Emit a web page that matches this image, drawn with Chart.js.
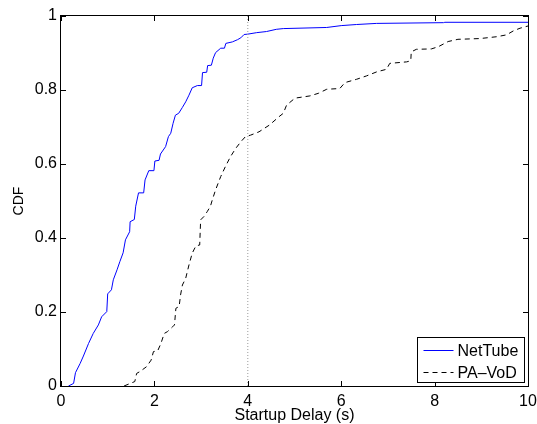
<!DOCTYPE html>
<html lang="en">
<head>
    <meta charset="UTF-8">
    <title>Startup Delay CDF</title>
    <style>
        body { margin: 0; background: #fff; }
        canvas { display: block; }
    </style>
</head>
<body>
    <canvas id="cdfChart" width="537" height="424"></canvas>
    <script src="https://cdn.jsdelivr.net/npm/chart.js@4.4.0/dist/chart.umd.min.js"></script>
    <script>
        // values
        var netTubeDelay = [0.16, 0.27, 0.31, 0.41, 0.48, 0.59, 0.69, 0.80, 0.87, 0.98, 1.00, 1.08, 1.12, 1.20, 1.26, 1.33, 1.38, 1.47, 1.48, 1.57, 1.60, 1.66, 1.77, 1.80, 1.88, 1.99, 2.01, 2.10, 2.13, 2.24, 2.30, 2.35, 2.40, 2.45, 2.52, 2.60, 2.67, 2.74, 2.81, 2.92, 3.01, 3.03, 3.12, 3.14, 3.22, 3.26, 3.31, 3.42, 3.50, 3.53, 3.67, 3.78, 3.85, 3.92, 4.00, 4.19, 4.40, 4.61, 4.76, 5.69, 6.00, 6.33, 6.76, 8.19, 8.22, 10];
        var netTubeCdf = [0, 0.007, 0.036, 0.061, 0.081, 0.115, 0.142, 0.165, 0.187, 0.201, 0.249, 0.26, 0.287, 0.314, 0.336, 0.36, 0.395, 0.417, 0.444, 0.45, 0.486, 0.522, 0.522, 0.557, 0.582, 0.582, 0.608, 0.61, 0.627, 0.647, 0.674, 0.683, 0.71, 0.732, 0.737, 0.753, 0.768, 0.786, 0.806, 0.812, 0.812, 0.847, 0.848, 0.866, 0.867, 0.886, 0.901, 0.913, 0.913, 0.926, 0.93, 0.936, 0.941, 0.95, 0.951, 0.955, 0.958, 0.964, 0.966, 0.969, 0.974, 0.977, 0.980, 0.982, 0.983, 0.983];

        var paVodDelay = [1.35, 1.58, 1.62, 1.69, 1.83, 1.93, 1.98, 2.07, 2.14, 2.21, 2.28, 2.39, 2.43, 2.46, 2.53, 2.56, 2.60, 2.67, 2.74, 2.81, 2.89, 2.97, 2.99, 3.06, 3.13, 3.20, 3.24, 3.31, 3.42, 3.52, 3.63, 3.74, 3.85, 3.95, 4.06, 4.24, 4.46, 4.67, 4.76, 4.83, 5.01, 5.33, 5.51, 5.69, 5.97, 6.08, 6.33, 6.54, 6.76, 6.97, 7.04, 7.40, 7.49, 7.50, 7.61, 7.93, 8.08, 8.29, 8.50, 8.97, 9.33, 9.54, 9.69, 9.83, 10];
        var paVodCdf = [0, 0.012, 0.034, 0.039, 0.052, 0.07, 0.093, 0.095, 0.115, 0.142, 0.147, 0.16, 0.165, 0.21, 0.215, 0.246, 0.273, 0.291, 0.327, 0.359, 0.379, 0.381, 0.449, 0.458, 0.471, 0.486, 0.503, 0.53, 0.566, 0.593, 0.62, 0.642, 0.66, 0.674, 0.678, 0.687, 0.705, 0.728, 0.737, 0.759, 0.778, 0.784, 0.791, 0.802, 0.804, 0.82, 0.829, 0.838, 0.849, 0.856, 0.872, 0.876, 0.879, 0.903, 0.91, 0.911, 0.917, 0.931, 0.937, 0.939, 0.944, 0.949, 0.96, 0.967, 0.973];

        var markerDelay = [4, 4];
        var markerCdf = [0, 1];

        var xTicks = [0, 2, 4, 6, 8, 10];
        var yTicks = [0, 0.2, 0.4, 0.6, 0.8, 1];

        var FONT = "'Liberation Sans', Arial, Helvetica, sans-serif";

        function toPoints(xs, ys) {
            return xs.map(function(x, i) { return { x: x, y: ys[i] }; });
        }

        // box, inward ticks and the legend, matlab style
        var matlabFrame = {
            id: 'matlabFrame',
            afterDatasetsDraw: function(chart) {
                var ctx = chart.ctx;
                var a = chart.chartArea;
                var xs = chart.scales.x;
                var ys = chart.scales.y;
                var tl = 5;

                ctx.save();
                ctx.strokeStyle = '#000';
                ctx.lineWidth = 1;
                ctx.beginPath();
                xTicks.forEach(function(v) {
                    var px = Math.round(xs.getPixelForValue(v)) + 0.5;
                    ctx.moveTo(px, a.bottom); ctx.lineTo(px, a.bottom - tl);
                    ctx.moveTo(px, a.top); ctx.lineTo(px, a.top + tl);
                });
                yTicks.forEach(function(v) {
                    var py = Math.round(ys.getPixelForValue(v)) + 0.5;
                    ctx.moveTo(a.left, py); ctx.lineTo(a.left + tl, py);
                    ctx.moveTo(a.right, py); ctx.lineTo(a.right - tl, py);
                });
                ctx.stroke();
                ctx.strokeRect(Math.round(a.left) - 0.5, Math.round(a.top) - 0.5,
                    Math.round(a.right - a.left) + 1, Math.round(a.bottom - a.top) + 1);

                // legend box in the lower right corner
                var items = chart.data.datasets.filter(function(d) { return d.label; });
                var bw = 107, bh = 45;
                var bx = Math.round(a.right) - 4 - bw + 0.5;
                var by = Math.round(a.bottom) - 4 - bh + 0.5;
                ctx.fillStyle = '#fff';
                ctx.fillRect(bx, by, bw, bh);
                ctx.strokeRect(bx, by, bw, bh);
                ctx.font = '16px ' + FONT;
                ctx.textBaseline = 'middle';
                ctx.textAlign = 'left';
                items.forEach(function(d, i) {
                    var cy = Math.round(by + 12.5 + i * 21.5) + 0.5;
                    ctx.beginPath();
                    ctx.strokeStyle = d.borderColor;
                    ctx.setLineDash(d.borderDash || []);
                    ctx.moveTo(bx + 6, cy);
                    ctx.lineTo(bx + 36, cy);
                    ctx.stroke();
                    ctx.setLineDash([]);
                    ctx.fillStyle = '#000';
                    ctx.fillText(d.label, bx + 40, cy + 1);
                });
                ctx.restore();
            }
        };

        var ctx = document.getElementById('cdfChart').getContext('2d');
        var cdfChart = new Chart(ctx, {
            type: 'line',
            data: {
                datasets: [{
                    data: toPoints(markerDelay, markerCdf),
                    borderColor: '#9a9a9a',
                    borderWidth: 1,
                    borderDash: [1, 2],
                    pointRadius: 0
                }, {
                    label: 'NetTube',
                    data: toPoints(netTubeDelay, netTubeCdf),
                    borderColor: '#0000ff',
                    borderWidth: 1,
                    pointRadius: 0,
                    tension: 0
                }, {
                    label: 'PA\u2013VoD',
                    data: toPoints(paVodDelay, paVodCdf),
                    borderColor: '#000000',
                    borderWidth: 1,
                    borderDash: [5, 4],
                    pointRadius: 0,
                    tension: 0
                }]
            },
            options: {
                responsive: false,
                animation: false,
                layout: { padding: { top: 16, right: 0, bottom: 0, left: 0 } },
                plugins: {
                    legend: { display: false },
                    tooltip: { enabled: false }
                },
                scales: {
                    x: {
                        type: 'linear',
                        min: 0,
                        max: 10,
                        border: { display: false },
                        grid: { display: false, drawTicks: false },
                        afterBuildTicks: function(scale) {
                            scale.ticks = xTicks.map(function(v) { return { value: v }; });
                        },
                        afterFit: function(scale) {
                            scale.height = 38;
                            scale.paddingLeft = 0;
                            scale.paddingRight = 9;
                        },
                        ticks: {
                            color: '#000',
                            padding: 6,
                            maxRotation: 0,
                            font: { family: FONT, size: 16 }
                        },
                        title: {
                            display: true,
                            text: 'Startup Delay (s)',
                            color: '#000',
                            padding: 0,
                            font: { family: FONT, size: 16, lineHeight: 1 }
                        }
                    },
                    y: {
                        type: 'linear',
                        min: 0,
                        max: 1,
                        border: { display: false },
                        grid: { display: false, drawTicks: false },
                        afterBuildTicks: function(scale) {
                            scale.ticks = yTicks.map(function(v) { return { value: v }; });
                        },
                        afterFit: function(scale) {
                            scale.width = 61;
                            scale.paddingTop = 0;
                            scale.paddingBottom = 0;
                        },
                        ticks: {
                            color: '#000',
                            padding: 4,
                            font: { family: FONT, size: 16 },
                            callback: function(v) { return String(v); }
                        },
                        title: {
                            display: true,
                            text: 'CDF',
                            color: '#000',
                            padding: { top: 12, bottom: 0 },
                            font: { family: FONT, size: 14, lineHeight: 1 }
                        }
                    }
                }
            },
            plugins: [matlabFrame]
        });
    </script>
</body>
</html>
